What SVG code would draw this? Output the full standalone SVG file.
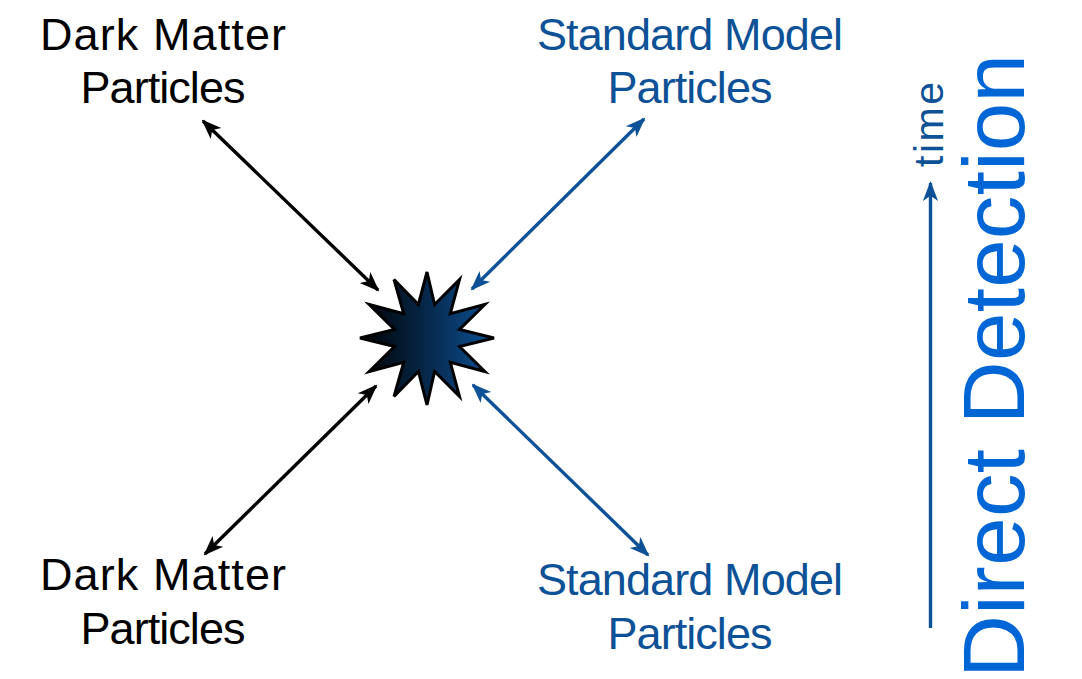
<svg xmlns="http://www.w3.org/2000/svg" width="1082" height="679" viewBox="0 0 1082 679">
<style>
.lbl{font-family:"Liberation Sans",Arial,sans-serif;font-size:45px;text-anchor:middle}
.dm{fill:#000}
.sm{fill:#0d5196}
.blk{stroke:#000;stroke-width:3.4;fill:none}
.blu{stroke:#0d5196;stroke-width:3.4;fill:none}
</style>
<defs>
<marker id="ab" viewBox="0 0 10 10" refX="9" refY="5" markerWidth="5.9" markerHeight="5.9" markerUnits="strokeWidth" orient="auto-start-reverse">
<path d="M0,1.2 L10,5 L0,8.8 L2.6,5 Z" fill="#000"/>
</marker>
<marker id="au" viewBox="0 0 10 10" refX="9" refY="5" markerWidth="5.9" markerHeight="5.9" markerUnits="strokeWidth" orient="auto-start-reverse">
<path d="M0,1.2 L10,5 L0,8.8 L2.6,5 Z" fill="#0d5196"/>
</marker>
<linearGradient id="g" x1="0" y1="0" x2="1" y2="0">
<stop offset="0" stop-color="#000000"/>
<stop offset="1" stop-color="#0d5196"/>
</linearGradient>
</defs>
<g id="connectors">
<line class="blk" x1="378" y1="290" x2="203" y2="121" marker-start="url(#ab)" marker-end="url(#ab)"/>
<line class="blk" x1="376" y1="386" x2="205" y2="554" marker-start="url(#ab)" marker-end="url(#ab)"/>
<line class="blu" x1="472" y1="289" x2="644" y2="119" marker-start="url(#au)" marker-end="url(#au)"/>
<line class="blu" x1="473" y1="385" x2="648" y2="555" marker-start="url(#au)" marker-end="url(#au)"/>
<line class="blu" x1="930.5" y1="628" x2="930.5" y2="183" marker-end="url(#au)"/>
</g>
<g id="star">
<polygon fill="url(#g)" stroke="#000" stroke-width="3" stroke-linejoin="miter" points="494,338 459.5,346.5 484.9,371.5 450.3,362.3 459.5,396.5 434.6,371.5 427,405 418.4,371.5 394,396.5 403.7,362.3 369.1,371.5 394.5,346.5 360,338 394.5,329.5 369.1,304.5 403.7,313.7 394,279.5 418.4,304.5 427,272 434.6,304.5 459.5,279.5 450.3,313.7 484.9,304.5 459.5,329.5"/>
</g>
<g id="dm-top">
<text class="lbl dm" x="163" y="50" textLength="246">Dark Matter</text>
<text class="lbl dm" x="163" y="103" textLength="165">Particles</text>
</g>
<g id="sm-top">
<text class="lbl sm" x="690" y="50" textLength="306">Standard Model</text>
<text class="lbl sm" x="690" y="103" textLength="165">Particles</text>
</g>
<g id="dm-bottom">
<text class="lbl dm" x="163" y="590" textLength="246">Dark Matter</text>
<text class="lbl dm" x="163" y="644" textLength="165">Particles</text>
</g>
<g id="sm-bottom">
<text class="lbl sm" x="690" y="595" textLength="306">Standard Model</text>
<text class="lbl sm" x="690" y="649" textLength="165">Particles</text>
</g>
<g id="time-label">
<text transform="translate(943,167) rotate(-90)" font-family="Liberation Sans,Arial,sans-serif" font-size="41" fill="#0d5196" textLength="85">time</text>
</g>
<g id="title">
<text transform="translate(1024,678) rotate(-90)" font-family="Liberation Sans,Arial,sans-serif" font-size="87" fill="#0066d6" textLength="624">Direct Detection</text>
</g>
</svg>
